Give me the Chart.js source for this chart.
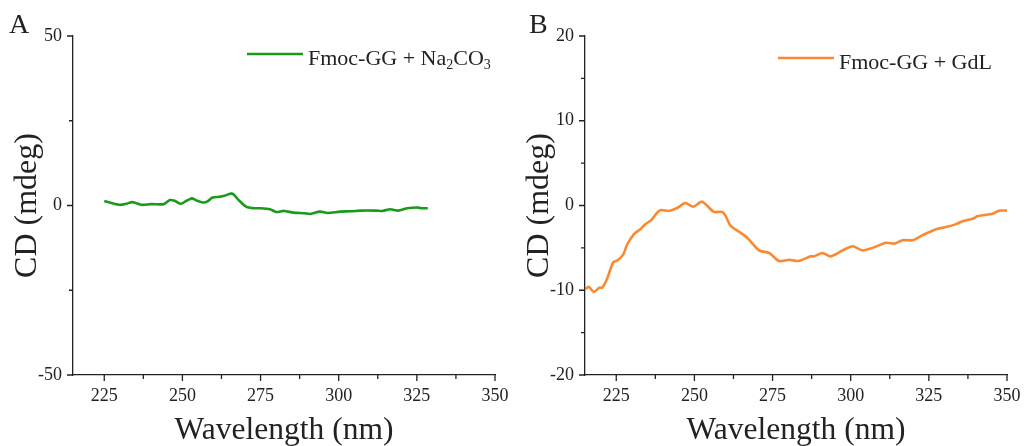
<!DOCTYPE html>
<html>
<head>
<meta charset="utf-8">
<script src="https://cdn.jsdelivr.net/npm/chart.js@4.4.0/dist/chart.umd.min.js"></script>
<style>
  body { margin: 0; background: #fff; }
  #wrap { display: flex; width: 1024px; height: 446px; }
  canvas { display: block; }
</style>
</head>
<body>
<div id="wrap">
  <canvas id="chartA" width="512" height="446"></canvas>
  <canvas id="chartB" width="512" height="446"></canvas>
</div>
<script>
// CD spectra, panel A (Na2CO3) and panel B (GdL)
var wavelengthA = [225, 227, 230, 232, 234, 237, 240, 244, 246, 247.5, 249.5, 251, 253, 254.5, 256.5, 258, 259.5, 262, 263.5, 265.5,
  266.5, 268, 270.5, 273, 275, 278, 280, 282.5, 285.5, 289, 291, 294, 296.5, 300.5, 304, 307, 312, 314, 316.5, 319,
  322, 325, 326.5, 328.5];
var cdA = [1.3, 0.8, 0.2, 0.5, 1.0, 0.2, 0.4, 0.4, 1.6, 1.4, 0.5, 1.2, 2.1, 1.5, 0.9, 1.2, 2.3, 2.6, 2.9, 3.5,
  3.2, 1.6, -0.4, -0.8, -0.8, -1.1, -1.9, -1.6, -2.1, -2.3, -2.5, -1.8, -2.2, -1.8, -1.7, -1.5, -1.5, -1.6, -1.1, -1.5,
  -0.8, -0.6, -0.8, -0.8];

var wavelengthB = [215, 216.2, 217.8, 219.6, 220.5, 222, 224, 225.3, 227.2, 228.5, 230.6, 232.7, 234.3, 236.3, 237.5, 239.1, 241.8, 244.5, 247.1, 249.6,
  252.5, 256.2, 258.9, 260, 261.6, 264.3, 266.9, 270.7, 273.9, 277.1, 280.3, 283.2, 287.2, 288.3, 291, 293.6, 297.4, 300.6, 303.8, 307,
  311.3, 314, 316.6, 319.8, 323, 327.3, 330.5, 333.7, 335.8, 339, 340.6, 345.4, 347.6, 350];
var cdB = [-9.9, -9.6, -10.2, -9.7, -9.7, -8.7, -6.7, -6.5, -5.8, -4.6, -3.4, -2.8, -2.2, -1.7, -1.1, -0.55, -0.65, -0.3, 0.3, -0.15,
  0.45, -0.75, -0.75, -1.25, -2.4, -3.1, -3.8, -5.3, -5.6, -6.55, -6.4, -6.55, -6.0, -6.0, -5.6, -6.0, -5.3, -4.8, -5.3, -5.0,
  -4.4, -4.5, -4.1, -4.1, -3.5, -2.8, -2.55, -2.2, -1.85, -1.57, -1.25, -0.98, -0.6, -0.6];

var xTicks = [225, 250, 275, 300, 325, 350];
var yTicksA = [-50, 0, 50];
var yTicksB = [-20, -10, 0, 10, 20];

// legend text; "_n" marks a subscript digit
var labelA = 'Fmoc-GG + Na_2CO_3';
var labelB = 'Fmoc-GG + GdL';

var SERIF = '"Liberation Serif", "DejaVu Serif", serif';
var INK = '#222';

function toPoints(xs, ys) {
  return xs.map(function (x, i) { return { x: x, y: ys[i] }; });
}

function midpoints(vals) {
  var out = [];
  for (var i = 0; i < vals.length - 1; i++) out.push((vals[i] + vals[i + 1]) / 2);
  return out;
}

// outward major/minor ticks, legend with subscripts, panel letter
var decor = {
  id: 'decor',
  afterDraw: function (chart, args, opts) {
    var ctx = chart.ctx, xs = chart.scales.x, ys = chart.scales.y, area = chart.chartArea;
    ctx.save();
    ctx.strokeStyle = INK;
    ctx.lineWidth = 1.3;
    ctx.beginPath();
    xs.ticks.forEach(function (t) {
      var px = xs.getPixelForValue(t.value);
      ctx.moveTo(px, area.bottom); ctx.lineTo(px, area.bottom + 6);
    });
    midpoints(xs.ticks.map(function (t) { return t.value; })).forEach(function (v) {
      var px = xs.getPixelForValue(v);
      ctx.moveTo(px, area.bottom); ctx.lineTo(px, area.bottom + 4);
    });
    ys.ticks.forEach(function (t) {
      var py = ys.getPixelForValue(t.value);
      ctx.moveTo(area.left, py); ctx.lineTo(area.left - 6, py);
    });
    midpoints(ys.ticks.map(function (t) { return t.value; })).forEach(function (v) {
      var py = ys.getPixelForValue(v);
      ctx.moveTo(area.left, py); ctx.lineTo(area.left - 4, py);
    });
    ctx.stroke();

    // legend
    var ds = chart.data.datasets[0];
    var lx = area.left + opts.legendX, ly = area.top + opts.legendY;
    ctx.strokeStyle = ds.borderColor;
    ctx.lineWidth = 2.6;
    ctx.beginPath();
    ctx.moveTo(lx, ly); ctx.lineTo(lx + 56, ly);
    ctx.stroke();
    ctx.fillStyle = INK;
    ctx.textBaseline = 'alphabetic';
    var tx = lx + 61, base = ly + 10.5;
    opts.label.split(/(_\d)/).forEach(function (part) {
      if (!part) return;
      if (part.charAt(0) === '_') {
        ctx.font = '14px ' + SERIF;
        ctx.fillText(part.slice(1), tx, base + 4);
        tx += ctx.measureText(part.slice(1)).width;
      } else {
        ctx.font = '22px ' + SERIF;
        ctx.fillText(part, tx, base);
        tx += ctx.measureText(part).width;
      }
    });

    // panel letter
    ctx.font = '28px ' + SERIF;
    ctx.fillText(opts.letter, opts.letterX, 33);
    ctx.restore();
  }
};

function makeChart(id, xs, ys, color, yTicks, yMin, yMax, decorOpts) {
  return new Chart(document.getElementById(id), {
    type: 'line',
    data: {
      datasets: [{
        label: decorOpts.label.replace(/_(\d)/g, '$1'),
        data: toPoints(xs, ys),
        borderColor: color,
        borderWidth: 2.6,
        pointRadius: 0,
        tension: 0.25,
        fill: false
      }]
    },
    options: {
      responsive: false,
      animation: false,
      layout: { padding: { top: 36, right: 17, left: 0, bottom: 0 } },
      plugins: {
        legend: { display: false },
        tooltip: { enabled: false },
        decor: decorOpts
      },
      scales: {
        x: {
          type: 'linear',
          min: 215,
          max: 350,
          afterFit: function (s) { s.height = 71; s.paddingLeft = 0; s.paddingRight = 0; },
          afterBuildTicks: function (s) { s.ticks = xTicks.map(function (v) { return { value: v }; }); },
          grid: { display: false, drawTicks: false },
          border: { display: true, color: INK, width: 1.3 },
          ticks: { padding: 10, color: INK, font: { family: SERIF, size: 18 } },
          title: {
            display: true,
            text: 'Wavelength (nm)',
            color: INK,
            padding: { top: 0, bottom: 0 },
            font: { family: SERIF, size: 31.5, lineHeight: 1 }
          }
        },
        y: {
          min: yMin,
          max: yMax,
          afterFit: function (s) { s.width = 73; s.paddingTop = 0; s.paddingBottom = 0; },
          afterBuildTicks: function (s) { s.ticks = yTicks.map(function (v) { return { value: v }; }); },
          grid: { display: false, drawTicks: false },
          border: { display: true, color: INK, width: 1.3 },
          ticks: { padding: 11, color: INK, font: { family: SERIF, size: 18 } },
          title: {
            display: true,
            text: 'CD (mdeg)',
            color: INK,
            padding: { top: 12, bottom: 0 },
            font: { family: SERIF, size: 32, lineHeight: 1 }
          }
        }
      }
    },
    plugins: [decor]
  });
}

makeChart('chartA', wavelengthA, cdA, '#1a9a1a', yTicksA, -50, 50,
  { label: labelA, legendX: 174, legendY: 18, letter: 'A', letterX: 9 });
makeChart('chartB', wavelengthB, cdB, '#f98a33', yTicksB, -20, 20,
  { label: labelB, legendX: 193, legendY: 22, letter: 'B', letterX: 17 });
</script>
</body>
</html>
